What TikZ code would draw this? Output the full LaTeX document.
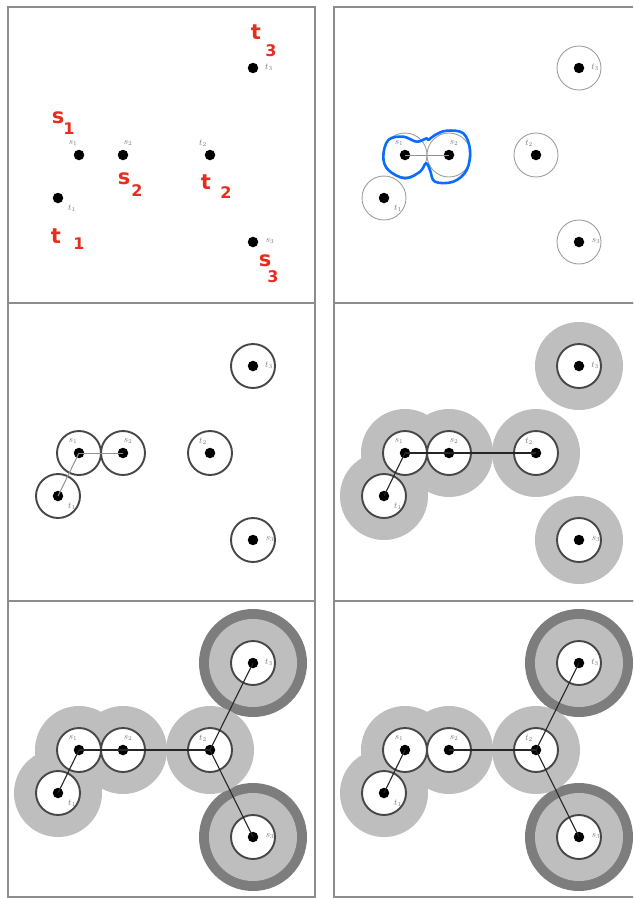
\documentclass[tikz,border=0pt]{standalone}
\usepackage{fontspec}
\newfontfamily\handfont{DejaVu Sans}
\usetikzlibrary{calc}
\pgfdeclarelayer{bg}
\pgfsetlayers{bg,main}
\definecolor{annred}{RGB}{232,44,30}
\definecolor{annblue}{RGB}{10,108,255}
\definecolor{lightdisk}{RGB}{190,190,190}
\definecolor{darkring}{RGB}{125,125,125}
\definecolor{framegray}{RGB}{140,140,140}
\tikzset{
  dot/.style={circle,fill=black,inner sep=0pt,minimum size=10.5pt},
  lab/.style={text=gray!95!black,font=\fontsize{9}{9}\selectfont,inner sep=0pt},
  panelframe/.style={draw=framegray,line width=1.8pt},
  thinring/.style={draw=gray!75,line width=0.9pt,fill=white},
  ring/.style={draw=black!72,line width=1.9pt,fill=white},
  lightline/.style={draw=gray!85,line width=1pt},
  edgeline/.style={draw=black!85,line width=1.1pt},
  hand/.style={text=annred,font=\handfont\bfseries\fontsize{21}{21}\selectfont,inner sep=0pt},
  handsub/.style={text=annred,font=\handfont\bfseries\fontsize{16}{16}\selectfont,inner sep=0pt}
}
\newcommand\placepts[1]{%
  \node[dot] (#1s1) at (79,155) {};
  \node[dot] (#1s2) at (123,155) {};
  \node[dot] (#1t2) at (210,155) {};
  \node[dot] (#1t1) at (58,198) {};
  \node[dot] (#1t3) at (253,68) {};
  \node[dot] (#1s3) at (253,242) {};
  \node[lab] (#1Ls1) at (73,143) {$s_1$};
  \node[lab] (#1Ls2) at (128,143) {$s_2$};
  \node[lab] (#1Lt2) at (203,143) {$t_2$};
  \node[lab] (#1Lt1) at (72,208) {$t_1$};
  \node[lab] (#1Lt3) at (269,67) {$t_3$};
  \node[lab] (#1Ls3) at (270,241) {$s_3$};
}
\begin{document}
\begin{tikzpicture}[x=1pt,y=-1pt]
\useasboundingbox (0,0) rectangle (633,898);
\clip (0,0) rectangle (633,898);
\begin{pgfonlayer}{bg}
  \fill[white] (0,0) rectangle (633,898);
\end{pgfonlayer}

% ---------- Panel 1 ----------
\begin{scope}
  \placepts{a}
  \node[hand] (r1t) at (256,32) {t};
  \node[handsub] (r1tn) at (271,51) {3};
  \node[hand] (r2s) at (58,118) {s};
  \node[handsub] (r2sn) at (69,129) {1};
  \node[hand] (r3s) at (124,179) {s};
  \node[handsub] (r3sn) at (137,191) {2};
  \node[hand] (r4t) at (206,182) {t};
  \node[handsub] (r4tn) at (226,193) {2};
  \node[hand] (r5t) at (56,236) {t};
  \node[handsub] (r5tn) at (79,244) {1};
  \node[hand] (r6s) at (265,261) {s};
  \node[handsub] (r6sn) at (273,277) {3};
\end{scope}

% ---------- Panel 2 ----------
\begin{scope}[shift={(326,0)}]
  \placepts{b}
  \begin{pgfonlayer}{bg}
    \foreach \n in {s1,s2,t2,t1,t3,s3}{\path[thinring] (b\n.center) circle (22);}
  \end{pgfonlayer}
  \draw[lightline] (bs1.center) -- (bs2.center);
\end{scope}
\draw[annblue,line width=2.6pt,line cap=round,line join=round]
  plot[smooth cycle,tension=0.6] coordinates {
   (426.7,138.3) (416.7,141.7) (403.3,136.7) (388.3,140) (383.3,156.7)
   (388.3,170) (405,178.3) (420,171.7) (426,163.3) (430,170) (435,181.7)
   (453.3,181.7) (466.7,170) (470,150) (463.3,133.3) (446.7,130.7)
   (435,135) (428.3,140)};

% ---------- Panel 3 ----------
\begin{scope}[shift={(0,298)}]
  \placepts{c}
  \begin{pgfonlayer}{bg}
    \foreach \n in {s1,s2,t2,t1,t3,s3}{\path[ring] (c\n.center) circle (22);}
  \end{pgfonlayer}
  \draw[lightline] (cs1.center) -- (cs2.center);
  \draw[lightline] (cs1.center) -- (ct1.center);
\end{scope}

% ---------- Panel 4 ----------
\begin{scope}[shift={(326,298)}]
  \placepts{d}
  \begin{pgfonlayer}{bg}
    \foreach \n in {s1,s2,t2,t1,t3,s3}{\fill[lightdisk] (d\n.center) circle (44);}
    \foreach \n in {s1,s2,t2,t1,t3,s3}{\path[ring] (d\n.center) circle (22);}
  \end{pgfonlayer}
  \draw[edgeline] (ds1.center) -- (ds2.center);
  \draw[edgeline] (ds2.center) -- (dt2.center);
  \draw[edgeline] (ds1.center) -- (dt1.center);
\end{scope}

% ---------- Panel 5 ----------
\begin{scope}[shift={(0,595)}]
  \placepts{e}
  \begin{pgfonlayer}{bg}
    \foreach \n in {t3,s3}{\fill[darkring] (e\n.center) circle (54);}
    \foreach \n in {s1,s2,t2,t1,t3,s3}{\fill[lightdisk] (e\n.center) circle (44);}
    \foreach \n in {s1,s2,t2,t1,t3,s3}{\path[ring] (e\n.center) circle (22);}
  \end{pgfonlayer}
  \draw[edgeline] (es1.center) -- (es2.center);
  \draw[edgeline] (es2.center) -- (et2.center);
  \draw[edgeline] (et2.center) -- (et3.center);
  \draw[edgeline] (et2.center) -- (es3.center);
  \draw[edgeline] (es1.center) -- (et1.center);
\end{scope}

% ---------- Panel 6 ----------
\begin{scope}[shift={(326,595)}]
  \placepts{f}
  \begin{pgfonlayer}{bg}
    \foreach \n in {t3,s3}{\fill[darkring] (f\n.center) circle (54);}
    \foreach \n in {s1,s2,t2,t1,t3,s3}{\fill[lightdisk] (f\n.center) circle (44);}
    \foreach \n in {s1,s2,t2,t1,t3,s3}{\path[ring] (f\n.center) circle (22);}
  \end{pgfonlayer}
  \draw[edgeline] (fs2.center) -- (ft2.center);
  \draw[edgeline] (ft2.center) -- (ft3.center);
  \draw[edgeline] (ft2.center) -- (fs3.center);
  \draw[edgeline] (fs1.center) -- (ft1.center);
\end{scope}

% ---------- Frames ----------
\draw[panelframe] (8,7) rectangle (315,303);
\draw[panelframe] (8,303) rectangle (315,601);
\draw[panelframe] (8,601) rectangle (315,897);
\draw[panelframe] (334,7) rectangle (645,303);
\draw[panelframe] (334,303) rectangle (645,601);
\draw[panelframe] (334,601) rectangle (645,897);
\end{tikzpicture}
\end{document}
